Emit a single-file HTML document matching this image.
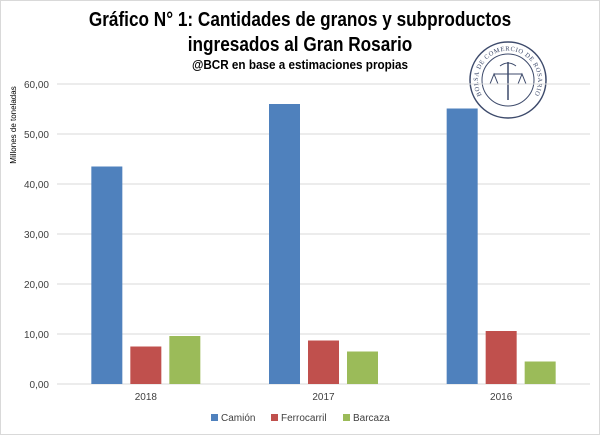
<!DOCTYPE html>
<html><head><meta charset="utf-8"><style>
body{margin:0;background:#fff;}
#c{position:relative;width:600px;height:435px;font-family:"Liberation Sans",sans-serif;}
</style></head><body>
<div id="c">
<svg id="s" width="600" height="435" xmlns="http://www.w3.org/2000/svg">
<rect x="0.5" y="0.5" width="599" height="434" fill="#fff" stroke="#d9d9d9"/>
<g font-family="Liberation Sans Narrow, Liberation Sans, sans-serif" font-weight="bold" text-anchor="middle" fill="#000">
<text x="300" y="26" font-size="20" transform="translate(300,0) scale(0.86,1) translate(-300,0)">Gráfico N° 1: Cantidades de granos y subproductos</text>
<text x="300" y="51" font-size="20" transform="translate(300,0) scale(0.86,1) translate(-300,0)">ingresados al Gran Rosario</text>
<text x="300" y="69" font-size="13" transform="translate(300,0) scale(0.9,1) translate(-300,0)">@BCR en base a estimaciones propias</text>
</g>
<g id="logo">
<circle cx="508" cy="80" r="38" fill="#fff" stroke="#3d4a6b" stroke-width="1.5"/>
<circle cx="508" cy="80" r="26" fill="none" stroke="#3d4a6b" stroke-width="1"/>
<path id="arc" d="M492,106 A30,30 0 1,1 524,106" fill="none"/>
<text font-size="6.5" fill="#3d4a6b" font-family="Liberation Serif,serif" letter-spacing="0.6"><textPath href="#arc" startOffset="50%" text-anchor="middle">BOLSA DE COMERCIO DE ROSARIO</textPath></text>
<line x1="508" y1="62" x2="508" y2="100" stroke="#3d4a6b" stroke-width="1.5"/>
<path d="M494,74 L522,74 M494,74 L490,84 L498,84 Z M522,74 L518,84 L526,84 Z" stroke="#3d4a6b" fill="none" stroke-width="1"/>
<path d="M500,66 Q508,60 516,66" stroke="#3d4a6b" fill="none"/>
</g>
<g id="plot"></g>
</svg>
</div>
<script>
const categories=["2018","2017","2016"];
const seriesNames=["Camión","Ferrocarril","Barcaza"];
const camion=[43.5,56.0,55.1];
const ferrocarril=[7.5,8.7,10.6];
const barcaza=[9.6,6.5,4.5];
const ticks=[0,10,20,30,40,50,60];
const tickLabels=["0,00","10,00","20,00","30,00","40,00","50,00","60,00"];
const colors=["#4f81bd","#c0504d","#9bbb59"];
const NS="http://www.w3.org/2000/svg";
const g=document.getElementById('plot');
const X0=57,X1=590,Y0=384,Y1=84;
const y=v=>Y0-(v/60)*(Y0-Y1);
const gw=(X1-X0)/categories.length;
const xc=i=>X0+gw*(i+0.5);
function mk(t,a){const e=document.createElementNS(NS,t);for(const k in a)e.setAttribute(k,a[k]);g.appendChild(e);return e;}
ticks.forEach((t,i)=>{
 const l=mk('line',{x1:X0,x2:X1,y1:y(t),y2:y(t),stroke:'#d9d9d9'});
 
 
 const tx=mk('text',{x:49,y:y(t)+4,'font-size':10,'text-anchor':'end',fill:'#404040'});
 tx.textContent=tickLabels[i];
 
 
});
const yt=mk('text',{x:0,y:0,'font-size':8,'text-anchor':'middle',fill:'#000',transform:'translate(16,125) rotate(-90)'});
yt.textContent='Millones de toneladas';


const series=[camion,ferrocarril,barcaza];
const bw=31,gap=8;
categories.forEach((c,i)=>{
 series.forEach((s,j)=>{
  const x=xc(i)+(j-1)*(bw+gap)-bw/2;
  const r=mk('rect',{x:x,y:y(s[i]),width:bw,height:Y0-y(s[i]),fill:colors[j]});
  
  
 });
 const t=mk('text',{x:xc(i),y:400,'font-size':10,'text-anchor':'middle',fill:'#404040'});
 t.textContent=c;
 
 
});
const lx=[211,271,343];
seriesNames.forEach((n,j)=>{
 const r=mk('rect',{x:lx[j],y:414,width:7,height:7,fill:colors[j]});
 
 
 const t=mk('text',{x:lx[j]+10,y:421,'font-size':10,fill:'#404040'});
 t.textContent=n;
 
 
});
</script>
</body></html>
